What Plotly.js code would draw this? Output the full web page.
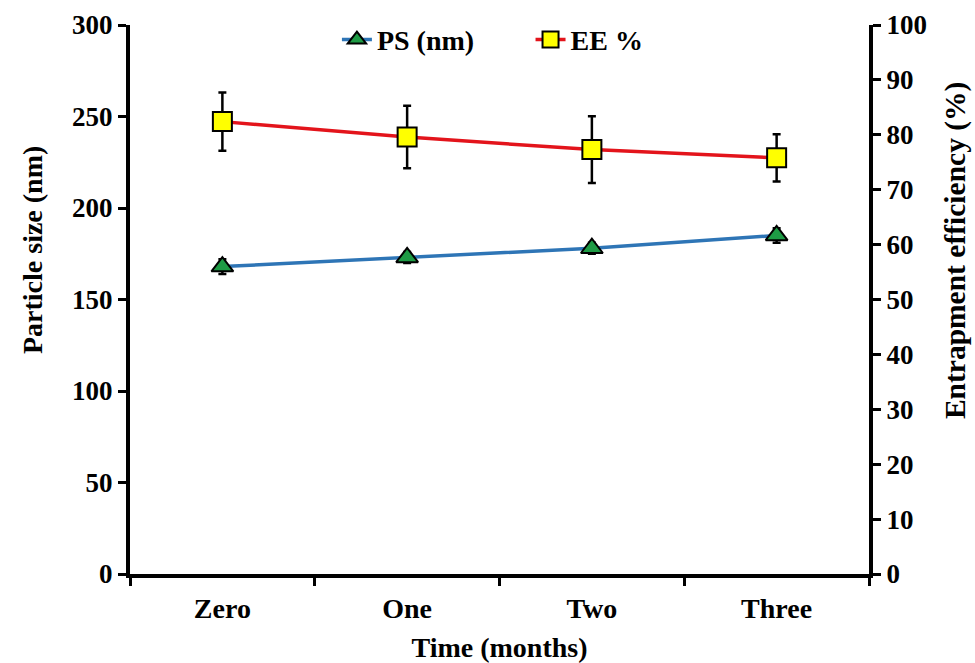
<!DOCTYPE html>
<html>
<head>
<meta charset="utf-8">
<script src="https://cdn.plot.ly/plotly-3.0.1.min.js"></script>
<style>html,body{margin:0;padding:0;background:#fff;}#chart{width:975px;height:663px;}</style>
</head>
<body>
<div id="chart"></div>
<script>
const categories = ["Zero", "One", "Two", "Three"];
const psValues = [168, 173, 178, 185];
const psErrors = [4, 3, 3, 4];
const eeValues = [82.4, 79.6, 77.3, 75.8];
const eeErrors = [5.3, 5.7, 6.1, 4.3];
const leftTicks = [0, 50, 100, 150, 200, 250, 300];
const rightTicks = [0, 10, 20, 30, 40, 50, 60, 70, 80, 90, 100];
const leftTitle = "Particle size (nm)";
const rightTitle = "Entrapment efficiency (%)";
const xTitle = "Time (months)";

const fontFam = "Liberation Serif";
const f = (s) => ({family: fontFam, size: s, color: "#000", weight: "bold"});

const traces = [
  {
    x: categories, y: psValues, name: "PS (nm)", type: "scatter", mode: "lines+markers",
    line: {color: "#2e75b6", width: 3.5},
    marker: {symbol: "triangle-up", size: 19, color: "#1e9b45", line: {color: "#000", width: 2}},
    error_y: {type: "data", array: psErrors, visible: true, color: "#000", thickness: 2.5, width: 4},
    yaxis: "y", legend: "legend"
  },
  {
    x: categories, y: eeValues, name: "EE %", type: "scatter", mode: "lines+markers",
    line: {color: "#e3141b", width: 3.5},
    marker: {symbol: "square", size: 19, color: "#ffff00", line: {color: "#000", width: 2}},
    error_y: {type: "data", array: eeErrors, visible: true, color: "#000", thickness: 2.5, width: 4},
    yaxis: "y2", legend: "legend2"
  }
];

const legBase = {orientation: "h", yanchor: "middle", y: 0.973, xanchor: "left",
  font: f(28), itemwidth: 30, bgcolor: "rgba(0,0,0,0)"};

const layout = {
  width: 975, height: 663,
  margin: {l: 130, r: 106, t: 25, b: 89},
  paper_bgcolor: "#fff", plot_bgcolor: "#fff",
  font: f(27),
  showlegend: true,
  legend: Object.assign({}, legBase, {x: 0.28}),
  legend2: Object.assign({}, legBase, {x: 0.542}),
  xaxis: {
    type: "category", range: [-0.5, 3.5], tickson: "boundaries",
    showline: true, linecolor: "#000", linewidth: 4, showgrid: false, zeroline: false,
    ticks: "outside", ticklen: 8, tickwidth: 3, tickcolor: "#000",
    tickfont: f(28), ticklabelstandoff: 6,
    title: {text: xTitle, font: f(28), standoff: 16}
  },
  yaxis: {
    range: [0, 300], tickvals: leftTicks,
    showline: true, linecolor: "#000", linewidth: 4, showgrid: false, zeroline: false,
    ticks: "outside", ticklen: 8, tickwidth: 3, tickcolor: "#000",
    tickfont: f(27)
  },
  yaxis2: {
    range: [0, 100], tickvals: rightTicks,
    overlaying: "y", side: "right",
    showline: true, linecolor: "#000", linewidth: 4, showgrid: false, zeroline: false,
    ticks: "outside", ticklen: 8, tickwidth: 3, tickcolor: "#000",
    tickfont: f(27)
  },
  annotations: [
    {text: leftTitle, xref: "paper", yref: "paper", x: -0.1327, y: 0.59,
     xanchor: "center", yanchor: "middle", textangle: -90, showarrow: false, font: f(28)},
    {text: rightTitle, xref: "paper", yref: "paper", x: 1.1164, y: 0.59,
     xanchor: "center", yanchor: "middle", textangle: -90, showarrow: false, font: f(29.5)}
  ]
};

Plotly.newPlot("chart", traces, layout, {displayModeBar: false, staticPlot: true});
</script>
</body>
</html>
